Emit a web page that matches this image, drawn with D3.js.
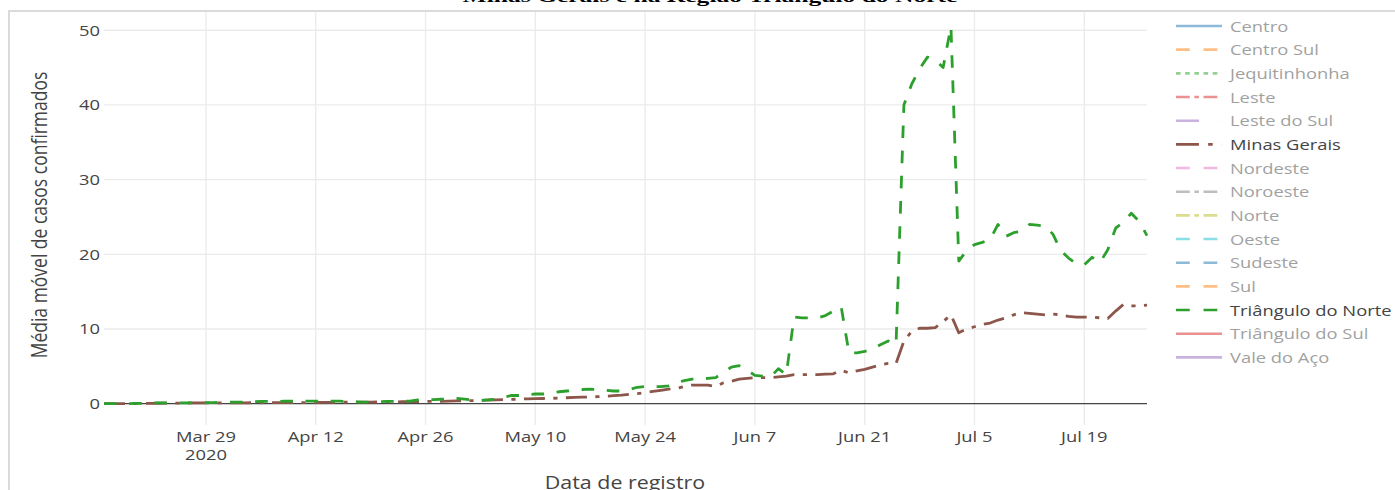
<!DOCTYPE html>
<html>
<head>
<meta charset="utf-8">
<script src="https://cdn.jsdelivr.net/npm/d3@7"></script>
<style>
  html, body { margin: 0; padding: 0; background: #fff; overflow: hidden; }
  text { font-family: "Open Sans", sans-serif; }
</style>
</head>
<body>
<svg id="chart" width="1395" height="490"></svg>
<script>
// Daily moving average of confirmed cases, 16 Mar – 27 Jul 2020
const firstDay = "2020-03-16";
const lastDay = "2020-07-27";

const minasGerais = [
  0, 0, 0, 0.02, 0.03, 0.04, 0.05, 0.06, 0.07, 0.08, 0.09, 0.1, 0.1,
  0.1, 0.1, 0.1, 0.11, 0.12, 0.12, 0.13, 0.13, 0.14, 0.14, 0.15, 0.15, 0.15, 0.16, 0.16,
  0.17, 0.18, 0.19, 0.2, 0.21, 0.22, 0.22, 0.23, 0.24, 0.25, 0.26, 0.27, 0.28,
  0.3, 0.3, 0.32, 0.35, 0.37, 0.4, 0.42, 0.45, 0.5, 0.52, 0.55, 0.58, 0.62, 0.65, 0.68,
  0.7, 0.72, 0.76, 0.8, 0.85, 0.88, 0.9, 0.95, 1.0, 1.08, 1.15, 1.25, 1.35, 1.5,
  1.65, 1.8, 1.95, 2.05, 2.3, 2.5, 2.5, 2.5, 2.3, 2.8, 3.0, 3.3, 3.4, 3.5,
  3.5, 3.5, 3.6, 3.7, 3.9, 3.9, 3.9, 3.9, 3.95, 4.0, 4.5, 4.1, 4.4, 4.6,
  4.9, 5.2, 5.4, 5.4, 8.4, 9.7, 10.1, 10.1, 10.2, 11.0, 11.9, 9.5, 10.0, 10.3,
  10.6, 10.8, 11.2, 11.5, 11.9, 12.2, 12.1, 12.0, 11.9, 12.0, 11.9, 11.7, 11.6, 11.6,
  11.6, 11.5, 11.4, 12.4, 13.3, 13.1, 13.1, 13.2
];

const trianguloNorte = [
  0, 0, 0, 0, 0.05, 0.05, 0.1, 0.1, 0.1, 0.1, 0.1, 0.1, 0.1,
  0.15, 0.15, 0.2, 0.2, 0.2, 0.2, 0.25, 0.3, 0.3, 0.3, 0.35, 0.35, 0.3, 0.35, 0.35,
  0.35, 0.35, 0.35, 0.3, 0.25, 0.2, 0.2, 0.25, 0.3, 0.3, 0.3, 0.35, 0.5,
  0.55, 0.55, 0.6, 0.65, 0.7, 0.6, 0.5, 0.45, 0.5, 0.6, 0.9, 1.1, 1.1, 1.2, 1.3,
  1.3, 1.4, 1.6, 1.7, 1.8, 1.9, 1.95, 1.9, 1.8, 1.7, 1.7, 1.9, 2.2, 2.3,
  2.3, 2.3, 2.4, 2.8, 3.1, 3.3, 3.3, 3.4, 3.5, 4.2, 4.9, 5.1, 4.5, 3.8,
  3.7, 3.6, 4.7, 3.9, 11.6, 11.5, 11.5, 11.5, 11.8, 12.4, 13.0, 6.8, 6.8, 7.0,
  7.3, 7.9, 8.4, 7.9, 40.0, 42.8, 44.8, 46.4, 46.0, 45.0, 50.5, 19.1, 20.5, 21.3,
  21.6, 22.0, 24.0, 22.4, 22.9, 23.1, 24.0, 23.9, 23.8, 22.7, 20.5, 19.5, 18.7, 18.6,
  19.6, 18.9, 20.6, 23.5, 24.3, 25.5, 24.4, 22.5
];

const xTickDates = ["2020-03-29", "2020-04-12", "2020-04-26", "2020-05-10", "2020-05-24",
                    "2020-06-07", "2020-06-21", "2020-07-05", "2020-07-19"];
const xTickLabels = ["Mar 29", "Apr 12", "Apr 26", "May 10", "May 24", "Jun 7", "Jun 21", "Jul 5", "Jul 19"];
const yTickValues = [0, 10, 20, 30, 40, 50];

const regionNames = ["Centro", "Centro Sul", "Jequitinhonha", "Leste", "Leste do Sul", "Minas Gerais",
  "Nordeste", "Noroeste", "Norte", "Oeste", "Sudeste", "Sul", "Triângulo do Norte",
  "Triângulo do Sul", "Vale do Aço"];
const regionColors = ["#1f77b4", "#ff7f0e", "#2ca02c", "#d62728", "#9467bd", "#8c564b",
  "#e377c2", "#7f7f7f", "#bcbd22", "#17becf", "#1f77b4", "#ff7f0e", "#2ca02c",
  "#d62728", "#9467bd"];
const regionDashes = ["solid", "dash", "dot", "dashdot", "longdash", "longdashdot",
  "dash", "dashdot", "dashdot", "dash", "dash", "dash", "dash", "solid", "solid"];
const shownRegions = ["Minas Gerais", "Triângulo do Norte"];

const titleText = "Minas Gerais e na Região Triângulo do Norte";
const xTitle = "Data de registro";
const yTitle = "Média móvel de casos confirmados";

// ---- layout ----
const svg = d3.select("#chart");
const W = 1395, H = 490;
const plot = { left: 104, right: 1147, top: 12, bottom: 425 };
const sx = 1.224;       // horizontal stretch applied to text
const parse = d3.utcParse("%Y-%m-%d");

const days = d3.utcDay.range(parse(firstDay), d3.utcDay.offset(parse(lastDay), 1));

const x = d3.scaleUtc()
  .domain([parse(firstDay), parse(lastDay)])
  .range([plot.left, plot.right]);
const y = d3.scaleLinear()
  .domain([-2.85, 52.44])
  .range([plot.bottom, plot.top]);

// dash patterns
function dashFor(kind, s) {
  const u = 3 * s;
  switch (kind) {
    case "dot": return `${u},${u}`;
    case "dash": return `${3*u},${3*u}`;
    case "longdash": return `${5*u},${5*u}`;
    case "dashdot": return `${3*u},${u},${u},${u}`;
    case "longdashdot": return `${5*u},${2*u},${u},${2*u}`;
    default: return null;
  }
}

// outer frame
svg.append("rect")
  .attr("x", 9).attr("y", 11)
  .attr("width", W + 20).attr("height", H + 20)
  .attr("fill", "none").attr("stroke", "#dadada").attr("stroke-width", 2);

// title (second line of the figure title, sitting at the top edge)
const title = svg.append("text")
  .attr("text-anchor", "middle")
  .style("font-family", "'Liberation Serif', 'DejaVu Serif', serif")
  .style("font-weight", "bold")
  .style("font-size", "17px")
  .attr("fill", "#000")
  .text(titleText);
{
  const len = title.node().getComputedTextLength();
  title.attr("transform", `translate(710,1.8) scale(${495 / len},1)`);
}

// grid
const grid = svg.append("g");
grid.selectAll("line.v")
  .data(xTickDates.map(parse))
  .join("line")
  .attr("x1", d => x(d)).attr("x2", d => x(d))
  .attr("y1", plot.top).attr("y2", plot.bottom)
  .attr("stroke", "#ebebeb").attr("stroke-width", 1.3);
grid.selectAll("line.h")
  .data(yTickValues.filter(v => v !== 0))
  .join("line")
  .attr("x1", plot.left).attr("x2", plot.right)
  .attr("y1", d => y(d)).attr("y2", d => y(d))
  .attr("stroke", "#ebebeb").attr("stroke-width", 1.3);

// zero line
svg.append("line")
  .attr("x1", plot.left).attr("x2", plot.right)
  .attr("y1", y(0)).attr("y2", y(0))
  .attr("stroke", "#444").attr("stroke-width", 1.3);

// y tick labels
svg.append("g").selectAll("text")
  .data(yTickValues)
  .join("text")
  .attr("text-anchor", "end")
  .attr("transform", d => `translate(100,${y(d) + 5.3}) scale(${sx},1)`)
  .style("font-size", "15px")
  .attr("fill", "#444")
  .text(d => d3.format("d")(d));

// x tick labels
const xt = svg.append("g").selectAll("g")
  .data(xTickDates.map((d, i) => ({ date: parse(d), label: xTickLabels[i], i })))
  .join("g")
  .attr("transform", d => `translate(${x(d.date)},0)`);
xt.append("text")
  .attr("text-anchor", "middle")
  .attr("transform", `translate(0,442) scale(${sx},1)`)
  .style("font-size", "15px")
  .attr("fill", "#444")
  .text(d => d.label);
xt.filter(d => d.i === 0).append("text")
  .attr("text-anchor", "middle")
  .attr("transform", `translate(0,460) scale(${sx},1)`)
  .style("font-size", "15px")
  .attr("fill", "#444")
  .text("2020");

// axis titles
svg.append("text")
  .attr("text-anchor", "middle")
  .attr("transform", `translate(625,488.5) scale(${sx},1)`)
  .style("font-size", "17.5px")
  .attr("fill", "#444")
  .text(xTitle);
svg.append("text")
  .attr("text-anchor", "middle")
  .attr("transform", `translate(47,215) rotate(-90) scale(1,${sx})`)
  .style("font-size", "17.5px")
  .attr("fill", "#444")
  .text(yTitle);

// series
svg.append("clipPath").attr("id", "plotClip")
  .append("rect")
  .attr("x", plot.left - 2).attr("y", plot.top)
  .attr("width", plot.right - plot.left + 4).attr("height", plot.bottom - plot.top);

const line = d3.line()
  .x(d => x(d[0]))
  .y(d => y(d[1]));

const series = [
  { name: "Minas Gerais", values: minasGerais },
  { name: "Triângulo do Norte", values: trianguloNorte }
];

svg.append("g").attr("clip-path", "url(#plotClip)")
  .selectAll("path")
  .data(series)
  .join("path")
  .attr("d", s => line(days.map((d, i) => [d, s.values[i]])))
  .attr("fill", "none")
  .attr("stroke", s => regionColors[regionNames.indexOf(s.name)])
  .attr("stroke-width", 2.8)
  .attr("stroke-linejoin", "round")
  .attr("stroke-dasharray", s => dashFor(regionDashes[regionNames.indexOf(s.name)], 1.4));

// legend
const legend = svg.append("g");
const item = legend.selectAll("g")
  .data(regionNames.map((n, i) => ({ name: n, i })))
  .join("g")
  .attr("transform", d => `translate(1176,${26 + 23.67 * d.i})`)
  .attr("opacity", d => shownRegions.includes(d.name) ? 1 : 0.5);
item.append("line")
  .attr("x1", 0).attr("x2", 46)
  .attr("y1", 0).attr("y2", 0)
  .attr("stroke", d => regionColors[d.i])
  .attr("stroke-width", 2.6)
  .attr("stroke-dasharray", d => dashFor(regionDashes[d.i], 1.53));
item.append("text")
  .attr("transform", `translate(54,5.5) scale(${sx},1)`)
  .style("font-size", "15px")
  .attr("fill", "#444")
  .text(d => d.name);
</script>
</body>
</html>
